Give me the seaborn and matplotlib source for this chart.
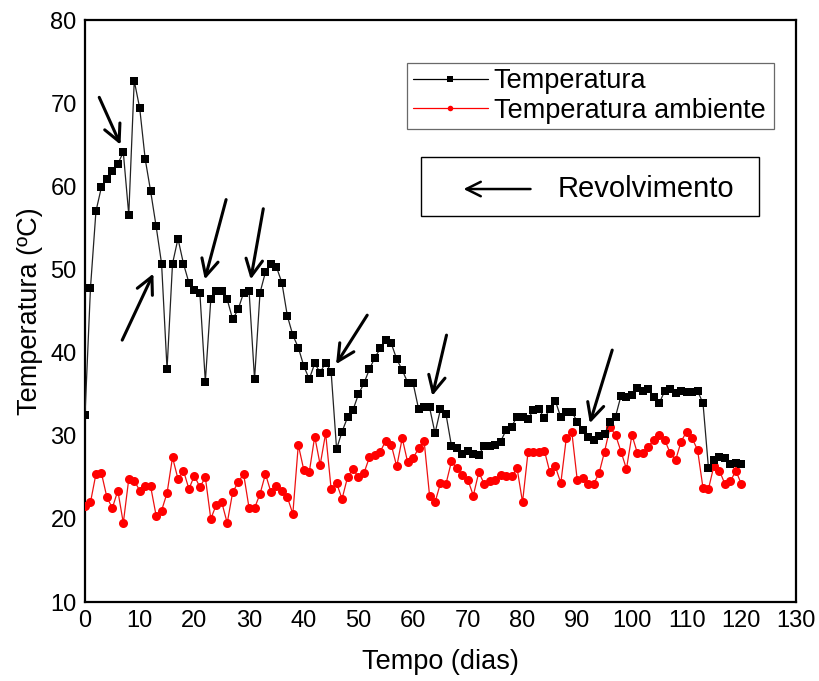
import numpy as np
import pandas as pd
import matplotlib
matplotlib.use("Agg")
import matplotlib.pyplot as plt
from matplotlib.ticker import MultipleLocator
from matplotlib.lines import Line2D
from matplotlib.patches import Rectangle
import seaborn as sns

days = list(range(0, 121))

temperatura = [
    32.5, 47.8, 57.0, 59.9, 60.9, 61.9, 62.7, 64.1, 56.6, 72.7,
    69.4, 63.3, 59.4, 55.2, 50.7, 38.0, 50.7, 53.7, 50.7, 48.4,
    47.5, 47.2, 36.5, 46.4, 47.4, 47.4, 46.4, 44.0, 45.2, 47.2,
    47.4, 36.8, 47.2, 49.7, 50.7, 50.3, 48.4, 44.4, 42.1, 40.6,
    38.4, 36.8, 38.7, 37.6, 38.8, 37.7, 28.4, 30.5, 32.2, 33.1,
    35.0, 36.3, 38.0, 39.4, 40.5, 41.5, 41.1, 39.2, 37.9, 36.4,
    36.3, 33.2, 33.5, 33.4, 30.3, 33.2, 32.6, 28.8, 28.5, 27.8,
    28.2, 27.8, 27.7, 28.8, 28.8, 28.9, 29.3, 30.7, 31.1, 32.3,
    32.2, 32.0, 33.1, 33.2, 32.1, 33.2, 34.2, 32.2, 32.8, 32.9,
    31.7, 30.7, 29.9, 29.5, 30.0, 30.2, 31.7, 32.3, 34.8, 34.7,
    34.9, 35.7, 35.4, 35.6, 34.7, 33.9, 35.4, 35.6, 35.1, 35.4,
    35.2, 35.3, 35.4, 33.9, 26.1, 27.1, 27.4, 27.3, 26.6, 26.7,
    26.6,
]

temperatura_ambiente = [
    21.6, 22.0, 25.4, 25.5, 22.6, 21.3, 23.4, 19.5, 24.8, 24.6,
    23.4, 23.9, 23.9, 20.4, 21.0, 23.1, 27.4, 24.8, 25.8, 23.6,
    25.2, 23.8, 25.0, 20.0, 21.7, 22.0, 19.5, 23.2, 24.4, 25.4,
    21.3, 21.3, 23.0, 25.4, 23.2, 24.0, 23.3, 22.6, 20.6, 28.9,
    25.9, 25.6, 29.9, 26.5, 30.3, 23.6, 24.3, 22.4, 25.0, 26.0,
    25.0, 25.5, 27.4, 27.7, 28.1, 29.4, 28.9, 26.3, 29.7, 26.8,
    27.3, 28.5, 29.4, 22.8, 22.0, 24.3, 24.2, 26.9, 26.1, 25.3,
    24.7, 22.8, 25.6, 24.2, 24.6, 24.7, 25.3, 25.1, 25.1, 26.1,
    22.0, 28.0, 28.0, 28.0, 28.2, 25.6, 26.3, 24.3, 29.7, 30.5,
    24.7, 24.9, 24.2, 24.2, 25.5, 28.1, 31.0, 30.1, 28.1, 26.0,
    30.1, 27.9, 27.9, 28.7, 29.5, 30.1, 29.5, 27.9, 27.1, 29.3,
    30.5, 29.7, 28.3, 23.7, 23.6, 26.4, 25.8, 24.2, 24.5, 25.8,
    24.2,
]

# Revolvimento arrows: (tail_x, tail_y, head_x, head_y) in data units
revolvimento_arrows = [
    (2.6, 70.7, 6.5, 65.0),
    (6.8, 41.5, 12.5, 49.5),
    (25.8, 58.4, 21.9, 48.8),
    (32.6, 57.3, 30.3, 48.8),
    (51.6, 44.5, 45.9, 38.6),
    (66.1, 42.1, 63.5, 34.8),
    (96.4, 40.3, 92.3, 31.5),
]

series_names = ["Temperatura", "Temperatura ambiente"]

sns.set_style("white")
plt.rcParams['font.family'] = ['Liberation Sans', 'DejaVu Sans']
plt.rcParams['text.color'] = 'black'
plt.rcParams['axes.labelcolor'] = 'black'
plt.rcParams['xtick.color'] = 'black'
plt.rcParams['ytick.color'] = 'black'

df1 = pd.DataFrame({"dia": days, "temp": temperatura})
df2 = pd.DataFrame({"dia": days, "temp": temperatura_ambiente})

fig = plt.figure(figsize=(8.19, 6.81), dpi=100)
ax = fig.add_axes([0.1038, 0.116, 0.8681, 0.8546])

sns.lineplot(data=df2, x="dia", y="temp", ax=ax, color="#ee1111", lw=0.9,
             marker="o", markersize=6.5, markeredgewidth=0, markerfacecolor="red",
             zorder=3)
sns.lineplot(data=df1, x="dia", y="temp", ax=ax, color="#222222", lw=0.9,
             marker="s", markersize=6, markeredgewidth=0, markerfacecolor="black",
             zorder=4)

for tx, ty, hx, hy in revolvimento_arrows:
    ax.annotate("", xy=(hx, hy), xytext=(tx, ty),
                arrowprops=dict(arrowstyle="->", lw=2.2, color="black",
                                mutation_scale=30, shrinkA=0, shrinkB=0),
                zorder=5)

ax.set_xlim(0, 130)
ax.set_ylim(10, 80)
ax.xaxis.set_major_locator(MultipleLocator(10))
ax.xaxis.set_minor_locator(MultipleLocator(5))
ax.yaxis.set_major_locator(MultipleLocator(10))
ax.yaxis.set_minor_locator(MultipleLocator(5))
ax.tick_params(axis="both", which="major", direction="in", length=7, width=1.4,
               labelsize=17, pad=6, colors="black")
ax.tick_params(axis="both", which="minor", direction="in", length=4, width=1.2)
ax.tick_params(top=False, right=False, which="both")
for s in ax.spines.values():
    s.set_linewidth(1.6)
    s.set_color("black")

ax.set_xlabel("Tempo (dias)", fontsize=19.5, labelpad=12, color="black")
ax.set_ylabel("Temperatura (ºC)", fontsize=19.5, labelpad=5, color="black")

handles = [
    Line2D([], [], color="black", lw=0.9, marker="s", markersize=4, markeredgewidth=0),
    Line2D([], [], color="red", lw=0.9, marker="o", markersize=4, markeredgewidth=0),
]
leg = ax.legend(handles, series_names, loc="center",
                bbox_to_anchor=(0.453, 0.811, 0.516, 0.117), mode="expand",
                fontsize=19.5, frameon=True, fancybox=False, borderpad=0.2,
                labelspacing=0.12, handlelength=2.8, handletextpad=0.2,
                borderaxespad=0)
leg.get_frame().set_edgecolor("#444444")
leg.get_frame().set_linewidth(0.9)
for t in leg.get_texts():
    t.set_color("black")

box = Rectangle((0.4726, 0.663), 0.4754, 0.1016, transform=ax.transAxes,
                fill=False, edgecolor="black", lw=1.0, zorder=6)
ax.add_patch(box)
ax.annotate("", xy=(0.5324, 0.7096), xytext=(0.6266, 0.7096),
            xycoords="axes fraction", textcoords="axes fraction",
            arrowprops=dict(arrowstyle="->", lw=1.8, color="black",
                            mutation_scale=26, shrinkA=0, shrinkB=0))
ax.text(0.789, 0.7096, "Revolvimento", transform=ax.transAxes, fontsize=21,
        ha="center", va="center", color="black")

fig.savefig("out.png", dpi=100)
